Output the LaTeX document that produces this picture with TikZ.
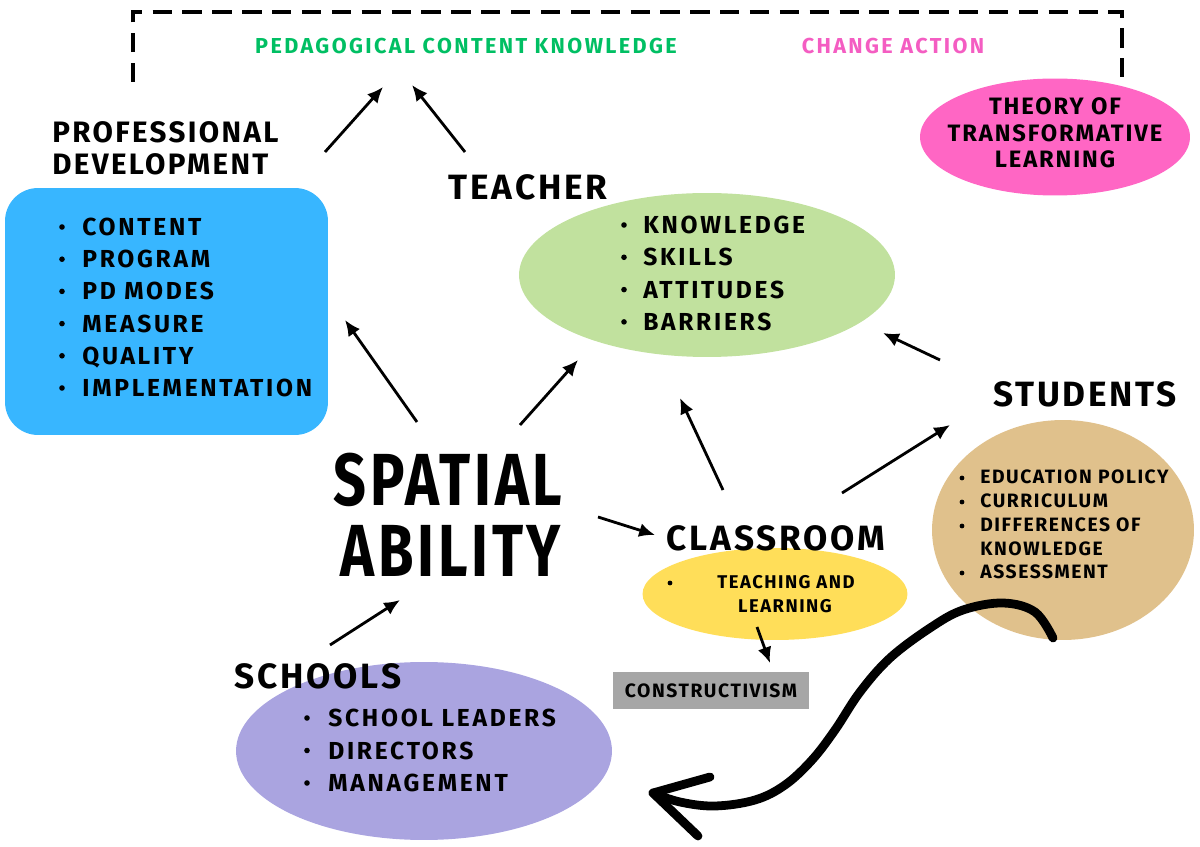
\documentclass[tikz,border=0pt]{standalone}
\usepackage{fontspec}
\usetikzlibrary{arrows.meta,shapes.geometric}
\newfontfamily\hand[LetterSpace=8]{Fira Sans}
\newfontfamily\handwide[LetterSpace=11]{Fira Sans}
\newfontfamily\handbig[FakeStretch=0.78,LetterSpace=5]{Fira Sans}
\definecolor{pdblue}{HTML}{38B6FF}
\definecolor{tgreen}{RGB}{193,225,158}
\definecolor{tpink}{HTML}{FF66C4}
\definecolor{cyellow}{HTML}{FFDE59}
\definecolor{stan}{RGB}{224,193,140}
\definecolor{spurple}{RGB}{170,164,224}
\definecolor{cgray}{HTML}{A6A6A6}
\definecolor{pckgreen}{HTML}{00BF63}
\definecolor{capink}{HTML}{F45DC2}
\tikzset{
  blob/.style={ellipse,inner sep=0pt,draw=none},
  heading/.style={font=\hand\bfseries\fontsize{20}{20}\selectfont,anchor=base,inner sep=0pt},
  pdhead/.style={font=\hand\bfseries\fontsize{16.8}{16.8}\selectfont,anchor=base west,inner sep=0pt},
  item/.style={font=\handwide\bfseries\fontsize{14}{14}\selectfont,anchor=base west,inner sep=0pt},
  smallitem/.style={font=\hand\bfseries\fontsize{11}{11}\selectfont,anchor=base west,inner sep=0pt},
  smallc/.style={font=\hand\bfseries\fontsize{10.5}{10.5}\selectfont,anchor=base,inner sep=0pt},
  toptext/.style={font=\handwide\bfseries\fontsize{12.3}{12.3}\selectfont,anchor=base,inner sep=0pt},
  theory/.style={font=\hand\bfseries\fontsize{13.5}{13.5}\selectfont,anchor=base,inner sep=0pt},
  big/.style={font=\handbig\bfseries\fontsize{42}{42}\selectfont,anchor=base,inner sep=0pt,text depth=0pt},
  arr/.style={line width=1.6pt,-{Latex[length=9pt,width=8pt]}},
}
\begin{document}
\begin{tikzpicture}[x=0.02cm,y=-0.02cm]
\useasboundingbox (0,0) rectangle (1200,847);
% dashed bracket
\coordinate (dl) at (133,82);
\coordinate (dr) at (1122,80);
\draw[line width=2pt,dash pattern=on 11pt off 6pt] (dl) -- (133,12) -- (1122,12) -- (dr);
% shapes
\node[blob,fill=tpink,minimum width=5.4cm,minimum height=2.34cm] (theory) at (1055,137) {};
\node[draw=none,fill=pdblue,rounded corners=0.66cm,minimum width=6.46cm,minimum height=4.94cm,inner sep=0pt] (pdbox) at (166.5,311.5) {};
\node[blob,fill=tgreen,minimum width=7.52cm,minimum height=3.28cm] (teacherE) at (707,275) {};
\node[blob,fill=cyellow,minimum width=5.3cm,minimum height=1.84cm] (classE) at (775,594) {};
\node[blob,fill=stan,minimum width=5.24cm,minimum height=4.4cm] (studE) at (1063,530) {};
\node[blob,fill=spurple,minimum width=7.52cm,minimum height=3.56cm] (schoolE) at (424,751) {};
\node[fill=cgray,minimum width=3.92cm,minimum height=0.74cm,inner sep=0pt] (constr) at (711,690.5) {};
% top texts
\node[toptext,text=pckgreen] (pck) at (466,54) {PEDAGOGICAL CONTENT KNOWLEDGE};
\node[toptext,text=capink] (change) at (893,54) {CHANGE ACTION};
\node[theory] (th1) at (1055,115) {THEORY OF};
\node[theory] (th2) at (1055,142) {TRANSFORMATIVE};
\node[theory] (th3) at (1055,168) {LEARNING};
% headings
\node[pdhead] (pd1) at (52,143) {PROFESSIONAL};
\node[pdhead] (pd2) at (52,175) {DEVELOPMENT};
\node[heading] (teacher) at (528,200) {TEACHER};
\node[heading] (classroom) at (776,550) {CLASSROOM};
\node[heading] (students) at (1085,407) {STUDENTS};
\node[heading] (schools) at (318,688) {SCHOOLS};
\node[big] (sp1) at (448,506) {SPATIAL};
\node[big] (sp2) at (451,577) {ABILITY};
% blue list
\foreach \t [count=\i] in {CONTENT,PROGRAM,PD MODES,MEASURE,QUALITY,IMPLEMENTATION}{
  \node[item] (pdi\i) at (82,{235.5+32.2*(\i-1)}) {\t};
  \fill (62,{227+32.2*(\i-1)}) circle (2.8);
}
% green list
\foreach \t [count=\i] in {KNOWLEDGE,SKILLS,ATTITUDES,BARRIERS}{
  \node[item] (tei\i) at (643,{233.5+32.3*(\i-1)}) {\t};
  \fill (624,{225+32.3*(\i-1)}) circle (2.8);
}
% purple list
\foreach \t [count=\i] in {SCHOOL LEADERS,DIRECTORS,MANAGEMENT}{
  \node[item] (sci\i) at (328,{726.5+32.5*(\i-1)}) {\t};
  \fill (307,{718+32.5*(\i-1)}) circle (2.8);
}
% tan list
\node[smallitem] (st1) at (980,484) {EDUCATION POLICY};
\node[smallitem] (st2) at (980,508) {CURRICULUM};
\node[smallitem] (st3) at (980,532) {DIFFERENCES OF};
\node[smallitem] (st4) at (980,556) {KNOWLEDGE};
\node[smallitem] (st5) at (980,579) {ASSESSMENT};
\foreach \y in {478,502,526,573}{\fill (962,\y) circle (2.4);}
% yellow
\fill (670,583) circle (2.4);
\node[smallc] (tl1) at (786,588) {TEACHING AND};
\node[smallc] (tl2) at (785,612) {LEARNING};
\node[font=\hand\bfseries\fontsize{11}{11}\selectfont,inner sep=0pt,anchor=base] (constrT) at (711,697) {CONSTRUCTIVISM};
% arrows
\coordinate (a1s) at (325,152); \coordinate (a1e) at (383,87);
\coordinate (a2s) at (465,152); \coordinate (a2e) at (412,85);
\coordinate (a3s) at (417,422); \coordinate (a3e) at (345,320);
\coordinate (a4s) at (520,425); \coordinate (a4e) at (578,360);
\coordinate (a5s) at (723,490); \coordinate (a5e) at (680,398);
\coordinate (a6s) at (940,360); \coordinate (a6e) at (883,333);
\coordinate (a7s) at (842,493); \coordinate (a7e) at (950,425);
\coordinate (a8s) at (598,517); \coordinate (a8e) at (655,535);
\coordinate (a9s) at (330,645); \coordinate (a9e) at (400,600);
\coordinate (a10s) at (757,627); \coordinate (a10e) at (770,663);
\foreach \k in {1,...,10}{\draw[arr] (a\k s) -- (a\k e);}
% big curved arrow
\coordinate (cs) at (1053,638);
\coordinate (ce) at (653,793);
\draw[line width=5pt,line cap=round,line join=round] plot[smooth,tension=0.6] coordinates {(cs) (1035,612) (1003,603) (963,610) (930,628) (890,658) (860,692) (835,730) (812,760) (785,785) (755,800) (715,806) (680,802) (ce)};
\draw[line width=5pt,line cap=round,line join=round] (710,777) -- (ce) -- (698,836);
\end{tikzpicture}
\end{document}
